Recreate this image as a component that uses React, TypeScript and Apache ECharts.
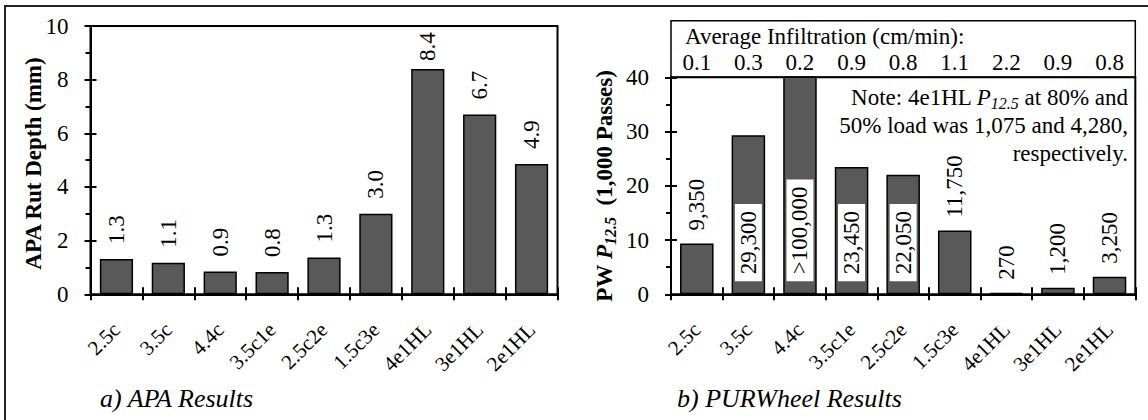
import React, { useEffect, useRef } from "react";
import * as echarts from "echarts";

const categories = ["2.5c", "3.5c", "4.4c", "3.5c1e", "2.5c2e", "1.5c3e", "4e1HL", "3e1HL", "2e1HL"];
const apaRutDepth = [1.32, 1.18, 0.85, 0.83, 1.37, 3.0, 8.4, 6.7, 4.86];
const apaLabels = ["1.3", "1.1", "0.9", "0.8", "1.3", "3.0", "8.4", "6.7", "4.9"];
const purwheelPasses = [9.35, 29.3, 100, 23.45, 22.05, 11.75, 0.27, 1.2, 3.25];
const purwheelLabels = ["9,350", "29,300", ">100,000", "23,450", "22,050", "11,750", "270", "1,200", "3,250"];
const purwheelLabelInside = [false, true, true, true, true, false, false, false, false];
const infiltration = ["0.1", "0.3", "0.2", "0.9", "0.8", "1.1", "2.2", "0.9", "0.8"];
const apaAxis = { min: 0, max: 10, interval: 2 };
const pwAxis = { min: 0, max: 40, interval: 10 };

const FONT = "Liberation Serif";
const BLACK = "#000";

function xAxesFor(gridIndex: number) {
  return [
    {
      type: "category",
      gridIndex,
      position: "bottom",
      data: categories,
      axisLine: { show: true, lineStyle: { color: BLACK, width: 2 } },
      axisTick: { show: true, length: 6, interval: 0, alignWithLabel: false, lineStyle: { color: BLACK, width: 2 } },
      axisLabel: { show: true, interval: 0, rotate: 45, margin: 32, fontSize: 21, fontFamily: FONT, color: BLACK },
      splitLine: { show: false },
    },
    {
      type: "category",
      gridIndex,
      position: "bottom",
      offset: 0,
      data: categories,
      axisLine: { show: false },
      axisTick: { show: true, inside: true, length: 7, interval: 0, alignWithLabel: false, lineStyle: { color: BLACK, width: 2 } },
      axisLabel: { show: false },
      splitLine: { show: false },
    },
  ];
}

function yAxesFor(gridIndex: number, range: { min: number; max: number; interval: number }) {
  return [
    {
      type: "value",
      gridIndex,
      position: "left",
      min: range.min,
      max: range.max,
      interval: range.interval,
      axisLine: { show: true, lineStyle: { color: BLACK, width: 2 } },
      axisTick: { show: true, length: 6, lineStyle: { color: BLACK, width: 2 } },
      minorTick: { show: true, splitNumber: 2, length: 5, lineStyle: { color: BLACK, width: 2 } },
      axisLabel: { show: true, margin: 22, fontSize: 23, fontFamily: FONT, color: BLACK },
      splitLine: { show: false },
      minorSplitLine: { show: false },
    },
    {
      type: "value",
      gridIndex,
      position: "left",
      offset: 0,
      min: range.min,
      max: range.max,
      interval: range.interval,
      axisLine: { show: false },
      axisTick: { show: true, inside: true, length: 6, lineStyle: { color: BLACK, width: 2 } },
      axisLabel: { show: false },
      splitLine: { show: false },
    },
  ];
}

export default function App() {
  const ref = useRef<HTMLDivElement>(null);

  useEffect(() => {
    if (!ref.current) return;
    const chart = echarts.init(ref.current, null, { renderer: "svg" });

    const baseLabel = {
      show: true,
      rotate: 90,
      align: "left",
      verticalAlign: "middle",
      fontSize: 23,
      fontFamily: FONT,
      color: BLACK,
    };

    const option: any = {
      animation: false,
      backgroundColor: "#fff",
      textStyle: { fontFamily: FONT },
      grid: [
        { left: 90.5, top: 26, width: 467, height: 268.3, show: true, borderColor: BLACK, borderWidth: 2, containLabel: false },
        { left: 671, top: 77.3, width: 464.3, height: 217, show: true, borderColor: BLACK, borderWidth: 2, containLabel: false },
      ],
      xAxis: [
        ...xAxesFor(0),
        ...xAxesFor(1),
        {
          type: "category",
          gridIndex: 1,
          position: "top",
          data: categories,
          axisLine: { show: false },
          axisTick: { show: false },
          axisLabel: {
            show: true,
            interval: 0,
            margin: 3,
            fontSize: 23,
            fontFamily: FONT,
            color: BLACK,
            formatter: (_v: string, i: number) => infiltration[i],
          },
          splitLine: { show: false },
        },
      ],
      yAxis: [...yAxesFor(0, apaAxis), ...yAxesFor(1, pwAxis)],
      series: [
        {
          type: "bar",
          xAxisIndex: 0,
          yAxisIndex: 0,
          barWidth: "64%",
          itemStyle: { color: "#595959", borderColor: BLACK, borderWidth: 1.5 },
          data: apaRutDepth.map((v, i) => ({
            value: v,
            label: { ...baseLabel, position: "top", distance: i === 6 ? 8 : 15, formatter: () => apaLabels[i] },
          })),
        },
        {
          type: "bar",
          xAxisIndex: 2,
          yAxisIndex: 2,
          barWidth: "65%",
          clip: true,
          itemStyle: { color: "#595959", borderColor: BLACK, borderWidth: 1.5 },
          data: purwheelPasses.map((v, i) => ({
            value: v,
            label: purwheelLabelInside[i]
              ? {
                  ...baseLabel,
                  position: "insideBottom",
                  distance: 13,
                  backgroundColor: "#fff",
                  padding: [2, 7, 2, 7],
                  formatter: () => purwheelLabels[i],
                }
              : { ...baseLabel, position: "top", distance: 13, formatter: () => purwheelLabels[i] },
          })),
        },
      ],
      graphic: [
        {
          type: "polyline",
          shape: { points: [[5, 420], [5, 6], [1148, 6]] },
          style: { fill: "none", stroke: "#222", lineWidth: 2 },
          silent: true,
        },
        {
          type: "rect",
          shape: { x: 671, y: 20.7, width: 464.3, height: 56.6 },
          style: { fill: "none", stroke: BLACK, lineWidth: 1.5 },
          silent: true,
        },
        {
          type: "text",
          x: 685,
          y: 36,
          style: {
            text: "Average Infiltration (cm/min):",
            fontSize: 23,
            fontFamily: FONT,
            fill: BLACK,
            textAlign: "left",
            textVerticalAlign: "middle",
          },
        },
        {
          type: "text",
          x: 1128,
          y: 97,
          style: {
            text: "{n|Note: 4e1HL }{i|P}{s|12.5}{n| at 80% and}",
            textAlign: "right",
            textVerticalAlign: "middle",
            fontSize: 23,
            fontFamily: FONT,
            fill: BLACK,
            rich: {
              n: { fontSize: 23, fontFamily: FONT, color: BLACK, lineHeight: 28, align: "right" },
              i: { fontSize: 23, fontFamily: FONT, fontStyle: "italic", color: BLACK, lineHeight: 28, align: "right" },
              s: { fontSize: 16, fontFamily: FONT, fontStyle: "italic", color: BLACK, lineHeight: 28, verticalAlign: "bottom", align: "right" },
            },
          },
        },
        {
          type: "text",
          x: 1128,
          y: 125,
          style: {
            text: "50% load was 1,075 and 4,280,",
            textAlign: "right",
            textVerticalAlign: "middle",
            fontSize: 23,
            fontFamily: FONT,
            fill: BLACK,
          },
        },
        {
          type: "text",
          x: 1128,
          y: 153,
          style: {
            text: "respectively.",
            textAlign: "right",
            textVerticalAlign: "middle",
            fontSize: 23,
            fontFamily: FONT,
            fill: BLACK,
          },
        },
        {
          type: "text",
          x: 33,
          y: 163.5,
          rotation: Math.PI / 2,
          style: {
            text: "APA Rut Depth (mm)",
            textAlign: "center",
            textVerticalAlign: "middle",
            fontSize: 23,
            fontWeight: "bold",
            fontFamily: FONT,
            fill: BLACK,
          },
        },
        {
          type: "text",
          x: 604,
          y: 186,
          rotation: Math.PI / 2,
          style: {
            text: "{b|PW }{bi|P}{s|12.5}{b|  (1,000 Passes)}",
            textAlign: "center",
            textVerticalAlign: "middle",
            fontSize: 23,
            fontWeight: "bold",
            fontFamily: FONT,
            fill: BLACK,
            rich: {
              b: { fontSize: 23, fontWeight: "bold", fontFamily: FONT, color: BLACK, lineHeight: 28 },
              bi: { fontSize: 23, fontWeight: "bold", fontStyle: "italic", fontFamily: FONT, color: BLACK, lineHeight: 28 },
              s: { fontSize: 16, fontWeight: "bold", fontStyle: "italic", fontFamily: FONT, color: BLACK, lineHeight: 28, verticalAlign: "bottom" },
            },
          },
        },
        {
          type: "text",
          x: 100,
          y: 398,
          style: {
            text: "a) APA Results",
            textAlign: "left",
            textVerticalAlign: "middle",
            fontSize: 26,
            fontStyle: "italic",
            fontFamily: FONT,
            fill: BLACK,
          },
        },
        {
          type: "text",
          x: 677,
          y: 398,
          style: {
            text: "b) PURWheel Results",
            textAlign: "left",
            textVerticalAlign: "middle",
            fontSize: 26,
            fontStyle: "italic",
            fontFamily: FONT,
            fill: BLACK,
          },
        },
      ],
    };

    chart.setOption(option);
    return () => {
      chart.dispose();
    };
  }, []);

  return (
    <div
      ref={ref}
      style={{ position: "absolute", left: 0, top: 0, width: 1148, height: 420 }}
    />
  );
}
